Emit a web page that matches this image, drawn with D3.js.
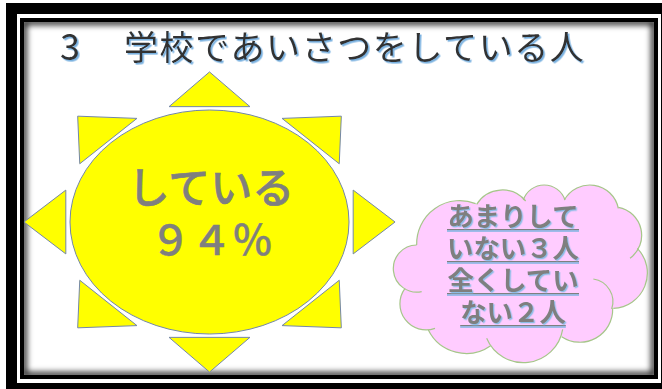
<!DOCTYPE html>
<html lang="ja">
<head>
<meta charset="utf-8">
<script src="https://cdn.jsdelivr.net/npm/d3@7/dist/d3.min.js"></script>
<style>
html,body{margin:0;padding:0;background:#fff;}
svg{display:block;}
text{font-family:"Noto Sans CJK JP","Noto Sans",sans-serif;}
</style>
</head>
<body>
<svg id="chart" width="662" height="389"></svg>
<script>
// Survey results
const titleNumber = "3";
const titleText = "学校であいさつをしている人";
const mainLabel = "している";
const mainValue = 94;
const rarelyLabel = "あまりしていない";
const rarelyValue = 3;
const neverLabel = "全くしていない";
const neverValue = 2;
const countUnit = "人";

// Sun rays, in units of the sun's radii
const straightRays = [
  [[0, -1.34], [-0.29, -1.03], [0.29, -1.03]],
  [[0, 1.34], [-0.29, 1.03], [0.29, 1.03]],
  [[-1.33, 0], [-1.03, -0.285], [-1.03, 0.285]],
  [[1.33, 0], [1.03, -0.285], [1.03, 0.285]]
];
const diagonalRays = [
  [[-0.945, -0.945], [-0.52, -0.925], [-0.93, -0.52]],
  [[0.945, -0.945], [0.52, -0.925], [0.93, -0.52]],
  [[-0.945, 0.945], [-0.52, 0.925], [-0.93, 0.52]],
  [[0.945, 0.945], [0.52, 0.925], [0.93, 0.52]]
];

// Cloud lobes as start, crown and end points, walked clockwise, in the cloud's own grid
const cloudLobes = [
  [[110, 210], [155, 108], [287, 86]],
  [[290, 88], [370, 45], [437, 78]],
  [[430, 75], [490, 30], [555, 75]],
  [[553, 75], [630, 30], [715, 100]],
  [[715, 97], [785, 180], [750, 250]],
  [[772, 220], [802, 290], [700, 400]],
  [[640, 312], [698, 370], [695, 402]],
  [[698, 400], [650, 488], [545, 485]],
  [[548, 463], [435, 563], [320, 490]],
  [[332, 512], [230, 532], [145, 465]],
  [[165, 460], [62, 405], [75, 340]],
  [[125, 350], [40, 280], [110, 210]]
];
// This lobe stays inside the outline and only contributes a stroke
const innerLobeIndex = 6;

const fullWidth = s => String(s).replace(/[0-9]/g, d => String.fromCharCode(d.charCodeAt(0) + 0xFEE0));
const svg = d3.select("#chart");
const defs = svg.append("defs");

// Frame: nested black and white bands with a soft inner shadow
const bands = [
  {x0: 6, y0: 3, x1: 664, y1: 392, fill: "#000"},
  {x0: 17, y0: 14, x1: 661, y1: 383, fill: "#fff"},
  {x0: 20, y0: 18, x1: 658, y1: 379, fill: "#000"},
  {x0: 24, y0: 22, x1: 654, y1: 375, fill: "#fff"}
];
svg.selectAll("rect.band").data(bands).join("rect").attr("class", "band")
  .attr("x", d => d.x0).attr("y", d => d.y0)
  .attr("width", d => d.x1 - d.x0).attr("height", d => d.y1 - d.y0)
  .attr("fill", d => d.fill);

const inner = bands[3];
defs.append("clipPath").attr("id", "innerClip").append("rect")
  .attr("x", inner.x0).attr("y", inner.y0)
  .attr("width", inner.x1 - inner.x0).attr("height", inner.y1 - inner.y0);
defs.append("filter").attr("id", "soft")
  .attr("x", "-5%").attr("y", "-5%").attr("width", "110%").attr("height", "110%")
  .append("feGaussianBlur").attr("stdDeviation", 3);
svg.append("g").attr("clip-path", "url(#innerClip)").append("rect")
  .attr("x", inner.x0).attr("y", inner.y0)
  .attr("width", inner.x1 - inner.x0).attr("height", inner.y1 - inner.y0)
  .attr("fill", "none").attr("stroke", "#000").attr("stroke-width", 5)
  .attr("filter", "url(#soft)");

// Pale blue offset shadows for the title and the cloud caption
function addShadow(id, offset, colour) {
  defs.append("filter").attr("id", id)
    .attr("x", "-5%").attr("y", "-20%").attr("width", "110%").attr("height", "140%")
    .append("feDropShadow")
    .attr("dx", offset).attr("dy", offset).attr("stdDeviation", 0.25)
    .attr("flood-color", colour).attr("flood-opacity", 1);
}
addShadow("titleShadow", 1.6, "#79b1e0");
addShadow("captionShadow", 1.3, "#8dbde6");

// Title
const titleParts = [
  {text: titleNumber, x: 60, size: 36, spacing: 0},
  {text: titleText, x: 124, size: 34, spacing: 1.6}
];
svg.append("g").attr("filter", "url(#titleShadow)")
  .selectAll("text").data(titleParts).join("text")
  .attr("x", d => d.x).attr("y", 60)
  .attr("font-size", d => d.size).attr("fill", "#333333")
  .attr("letter-spacing", d => d.spacing)
  .text(d => d.text);

// Sun
const sunX = d3.scaleLinear().domain([-1, 1]).range([70, 349]);
const sunY = d3.scaleLinear().domain([-1, 1]).range([110, 334]);
const rayLine = d3.line().x(d => sunX(d[0])).y(d => sunY(d[1])).curve(d3.curveLinearClosed);
const outline = "#7487a8";

svg.append("g").selectAll("path").data(straightRays.concat(diagonalRays)).join("path")
  .attr("d", rayLine).attr("fill", "#ffff00").attr("stroke", outline).attr("stroke-width", 1);
svg.append("ellipse")
  .attr("cx", sunX(0)).attr("cy", sunY(0))
  .attr("rx", sunX(1) - sunX(0)).attr("ry", sunY(1) - sunY(0))
  .attr("fill", "#ffff00").attr("stroke", outline).attr("stroke-width", 1);

svg.append("text").attr("x", sunX(0) + 1.5).attr("y", 203)
  .attr("text-anchor", "middle").attr("font-size", 42).attr("font-weight", 500)
  .attr("fill", "#7f7f7f").attr("stroke", "#7f7f7f").attr("stroke-width", 0.6).text(mainLabel);
svg.append("text").attr("x", sunX(0) + 2).attr("y", 255)
  .attr("text-anchor", "middle").attr("font-size", 41).attr("font-weight", 500)
  .attr("fill", "#7f7f7f").attr("stroke", "#7f7f7f").attr("stroke-width", 0.4).text(fullWidth(mainValue) + "％");

// Cloud: each lobe is a circular arc through its three points
const cloudX = d3.scaleLinear().domain([0, 846]).range([380, 662]);
const cloudY = d3.scaleLinear().domain([0, 642]).range([175, 389]);

function traceLobe(path, lobe, first) {
  const [[ax, ay], [bx, by], [cx, cy]] = lobe.map(p => [cloudX(p[0]), cloudY(p[1])]);
  const det = 2 * (ax * (by - cy) + bx * (cy - ay) + cx * (ay - by));
  const a2 = ax * ax + ay * ay, b2 = bx * bx + by * by, c2 = cx * cx + cy * cy;
  const ox = (a2 * (by - cy) + b2 * (cy - ay) + c2 * (ay - by)) / det;
  const oy = (a2 * (cx - bx) + b2 * (ax - cx) + c2 * (bx - ax)) / det;
  const r = Math.hypot(ax - ox, ay - oy);
  const start = Math.atan2(ay - oy, ax - ox);
  const end = Math.atan2(cy - oy, cx - ox);
  if (first) path.moveTo(ax, ay);
  path.arc(ox, oy, r, start, end, false);
}

const body = d3.path();
cloudLobes.filter((_, i) => i !== innerLobeIndex).forEach((lobe, i) => traceLobe(body, lobe, i === 0));
body.closePath();
svg.append("path").attr("d", body.toString()).attr("fill", "#ffccff");

svg.append("g").attr("fill", "none").attr("stroke", "#a6c68a").attr("stroke-width", 1.2)
  .selectAll("path").data(cloudLobes).join("path")
  .attr("d", lobe => {
    const p = d3.path();
    traceLobe(p, lobe, true);
    return p.toString();
  });

// Cloud caption: one run of text broken every five characters
const caption = rarelyLabel + fullWidth(rarelyValue) + countUnit + neverLabel + fullWidth(neverValue) + countUnit;
const captionLines = d3.range(0, caption.length, 5).map(i => caption.slice(i, i + 5));
const lineBaselines = [226, 258, 290, 322];
const captionX = 513;
const captionSize = 26.4;

const captionGroup = svg.append("g");
captionLines.forEach((line, i) => {
  const halfWidth = line.length * captionSize / 2;
  const y = lineBaselines[i];
  captionGroup.append("line")
    .attr("x1", captionX - halfWidth).attr("x2", captionX + halfWidth)
    .attr("y1", y + 3.6).attr("y2", y + 3.6)
    .attr("stroke", "#7f7f7f").attr("stroke-width", 1.4);
  captionGroup.append("line")
    .attr("x1", captionX - halfWidth).attr("x2", captionX + halfWidth)
    .attr("y1", y + 5).attr("y2", y + 5)
    .attr("stroke", "#7fb4e2").attr("stroke-width", 1.3);
  captionGroup.append("text").attr("x", captionX).attr("y", y)
    .attr("text-anchor", "middle").attr("font-size", captionSize).attr("font-weight", 700)
    .attr("fill", "#7f7f7f").attr("filter", "url(#captionShadow)").text(line);
});
</script>
</body>
</html>
